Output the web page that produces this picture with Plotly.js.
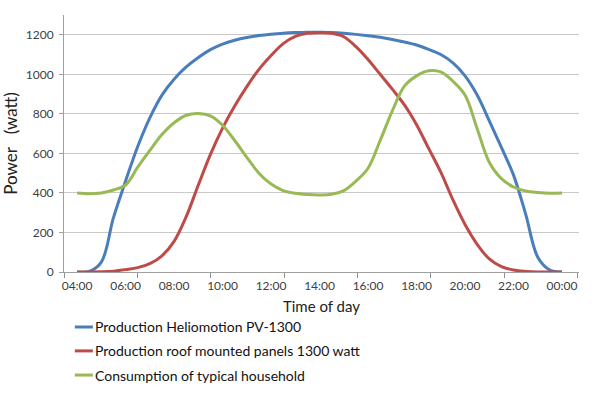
<!DOCTYPE html>
<html>
<head>
<meta charset="utf-8">
<script src="https://cdn.plot.ly/plotly-3.0.1.min.js"></script>
<style>html,body{margin:0;padding:0;background:#fff}#chart{width:600px;height:393px}</style>
</head>
<body>
<div id="chart"></div>
<script>
// Time of day in hours (04:00 .. 24:00)
const hours = [4,4.5,5,5.5,6,6.5,7,7.5,8,8.5,9,9.5,10,10.5,11,11.5,12,12.5,13,13.5,14,14.5,15,15.5,16,16.5,17,17.5,18,18.5,19,19.5,20,20.5,21,21.5,22,22.5,23,23.5,24];

const heliomotion = [0,3,50,275,460,635,780,895,975,1037,1085,1125,1153,1172,1186,1196,1203,1208,1211,1213,1213,1212,1208,1202,1195,1187,1176,1163,1148,1126,1100,1058,992,895,765,630,490,293,75,10,0];

const roofPanels = [0,0,1,4,12,22,42,82,155,280,440,595,728,840,938,1025,1095,1155,1192,1207,1210,1208,1190,1140,1075,1000,925,845,745,625,505,365,240,140,66,27,10,3,0,0,0];

const household = [400,396,400,415,440,530,615,695,755,793,802,790,742,665,580,500,445,412,398,392,390,393,412,460,525,665,815,940,992,1018,1012,965,895,725,555,472,430,410,402,398,400];

const tickHours = [4,6,8,10,12,14,16,18,20,22,24];
const tickLabels = ["04:00","06:00","08:00","10:00","12:00","14:00","16:00","18:00","20:00","22:00","00:00"];

const seriesNames = ["Production Heliomotion PV-1300","Production roof mounted panels 1300 watt","Consumption of typical household"];
const seriesColors = ["#4A7EBB","#BE4B48","#98B954"];
const seriesValues = [heliomotion, roofPanels, household];

const font = "Lato, 'Open Sans', sans-serif";

const traces = seriesValues.map((vals, i) => ({
  x: hours, y: vals, type: "scatter", mode: "lines", name: seriesNames[i],
  line: {color: seriesColors[i], width: 3, shape: "spline", smoothing: 1},
  hoverinfo: "x+y", showlegend: false
}));
// helper trace so the secondary (tick-mark) x axis is drawn
traces.push({x: [hours[0]], y: [household[0]], xaxis: "x2", yaxis: "y", mode: "none", type: "scatter", showlegend: false, hoverinfo: "skip"});

// Legend drawn below the plot (paper coordinates)
const legendRowY = [-0.214, -0.307, -0.401];
const legendShapes = seriesNames.map((n, i) => ({
  type: "line", xref: "paper", yref: "paper",
  x0: 0.021, x1: 0.056, y0: legendRowY[i], y1: legendRowY[i],
  line: {color: seriesColors[i], width: 3}
}));
const legendTexts = seriesNames.map((n, i) => ({
  text: n, xref: "paper", yref: "paper", x: 0.057, y: legendRowY[i],
  xanchor: "left", yanchor: "middle", showarrow: false,
  font: {family: font, size: 14, color: "#111"}
}));

const layout = {
  width: 600, height: 393,
  margin: {l: 64, r: 21, t: 15, b: 121},
  paper_bgcolor: "#fff", plot_bgcolor: "#fff",
  font: {family: font, size: 12, color: "#404040"},
  showlegend: false,
  shapes: legendShapes,
  annotations: legendTexts,
  xaxis: {
    range: [3.46, 24.70], tickmode: "array", tickvals: tickHours, ticktext: tickLabels,
    showgrid: false, zeroline: false, showline: true, linecolor: "#A0A0A0", linewidth: 1,
    ticks: "", ticklabelstandoff: 3, tickfont: {size: 12, color: "#404040"},
    title: {text: "Time of day", font: {size: 15, color: "#222"}, standoff: 9}
  },
  xaxis2: {
    overlaying: "x", anchor: "y", side: "bottom", range: [3.46, 24.70],
    tickmode: "linear", tick0: 3.46, dtick: 3.027, showticklabels: false,
    ticks: "outside", ticklen: 5, tickwidth: 1, tickcolor: "#909090", showgrid: false, zeroline: false, showline: false
  },
  yaxis: {
    range: [0, 1300], dtick: 200, tick0: 0,
    showgrid: true, gridcolor: "#C8C8C8", gridwidth: 1, zeroline: false,
    showline: true, linecolor: "#A0A0A0", linewidth: 1,
    ticks: "outside", ticklen: 4, tickcolor: "#A0A0A0", ticklabelstandoff: 3,
    tickfont: {size: 12, color: "#404040"},
    title: {text: "Power&nbsp;&nbsp; (watt)", font: {size: 17, color: "#222"}, standoff: 5}
  }
};

Plotly.newPlot("chart", traces, layout, {displayModeBar: false, staticPlot: true});
</script>
</body>
</html>
